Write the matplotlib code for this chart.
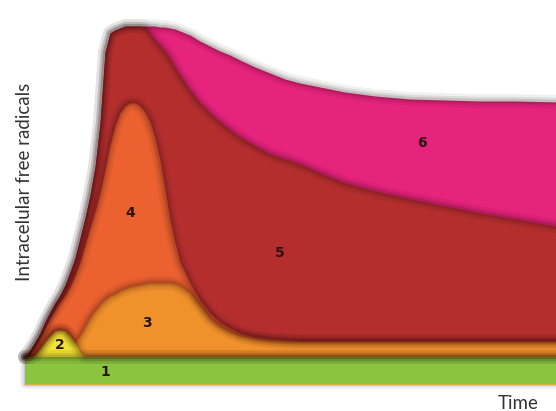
import matplotlib
matplotlib.use("Agg")
import matplotlib.pyplot as plt
import numpy as np

# time samples (arbitrary units) and thickness of every band
time = [0, 1, 2, 3, 4, 5, 6, 7, 8, 9, 10, 11, 12, 13, 14, 15, 16, 17, 18, 19,
        20, 21, 22, 23, 24, 25, 26, 27, 28, 29, 30, 31, 33, 35, 37, 39, 41, 43,
        46, 49, 52, 55, 59, 64, 70, 77, 84, 91, 98, 107]

band1 = [27] * 50  # green strip at the bottom

band2 = [0, 0, 2, 8, 15, 21, 26, 27, 26, 21, 14, 5, 0] + [0] * 37

band3 = [0, 0, 0, 0, 0, 0, 0, 0, 0, 0, 1, 16, 30, 39, 46, 52, 57, 61, 63, 66,
         68, 70, 71, 72, 73, 74, 74, 74, 74, 74, 73, 71, 64, 51, 38, 30, 25, 21,
         18, 16, 15, 15, 15, 15, 15, 15, 15, 15, 15, 15]

band4 = [0, 3, 8, 11, 14, 18, 21, 28, 36, 50, 67, 74, 82, 90, 99, 112, 130, 151, 168, 178,
         183, 184, 183, 179, 172, 161, 145, 123, 93, 63, 41, 24, 10, 6, 6, 5, 4, 3,
         2, 2, 2, 1, 1, 1, 1, 1, 1, 1, 1, 1]

band5 = [0, 4, 5, 5, 6, 6, 7, 7, 10, 14, 17, 24, 27, 33, 45, 70, 118, 112, 96, 85,
         80, 77, 77, 80, 85, 89, 98, 115, 139, 162, 176, 187, 193, 197, 200, 200, 198, 196,
         191, 185, 181, 177, 168, 158, 150, 142, 135, 128, 122, 114]

band6 = [0] * 24 + [1, 7, 14, 18, 24, 30, 38, 44, 55, 62, 67, 71, 75, 77,
                    79, 81, 80, 81, 86, 91, 95, 100, 106, 112, 118, 125]

band_names = ["1", "2", "3", "4", "5", "6"]
band_colors = ["#8BC43F", "#F2E234", "#F0912C", "#EB6130", "#B42E2E", "#E6247E"]
# where the band numbers sit (time, level)
label_pos = [(16, 12), (7, 39), (24.4, 61), (21, 171), (51, 131), (79.4, 241)]

bands = np.array([band1, band2, band3, band4, band5, band6], dtype=float)
tops = np.cumsum(bands, axis=0)
t = np.array(time, dtype=float)

fig = plt.figure(figsize=(5.56, 4.11), dpi=100)
ax = fig.add_axes([0, 0, 1, 1])
ax.set_xlim(-5, 106.2)
ax.set_ylim(-27, 384)
ax.axis("off")

# soft shadow under the green strip
for lw, a in [(7, 0.06), (4, 0.08), (2, 0.1)]:
    ax.fill_between(t, 0, tops[0], facecolor="none", edgecolor="black",
                    linewidth=lw, alpha=a, joinstyle="round")

# draw from the top band down; a blurred dark stroke on each edge gives the shadow
for i in reversed(range(len(bands))):
    for lw, a in [(10, 0.06), (6, 0.09), (3, 0.12)]:
        ax.plot(t, tops[i], color="#1a0000", linewidth=lw, alpha=a,
                solid_capstyle="round", solid_joinstyle="round")
    ax.fill_between(t, 0, tops[i], color=band_colors[i], linewidth=0)

for name, (x, y) in zip(band_names, label_pos):
    ax.text(x, y, name, ha="center", va="center", fontsize=10,
            fontweight="bold", color="#2a1410")

fig.text(25 / 556, 1 - 182 / 411, "Intracelular free radicals", rotation=90,
         ha="center", va="center", fontsize=13.5, color="#333333", family="Lato")
fig.text(518 / 556, 1 - 403 / 411, "Time", ha="center", va="center",
         fontsize=13.5, color="#333333", family="Lato")

fig.savefig("out.png", dpi=100)
